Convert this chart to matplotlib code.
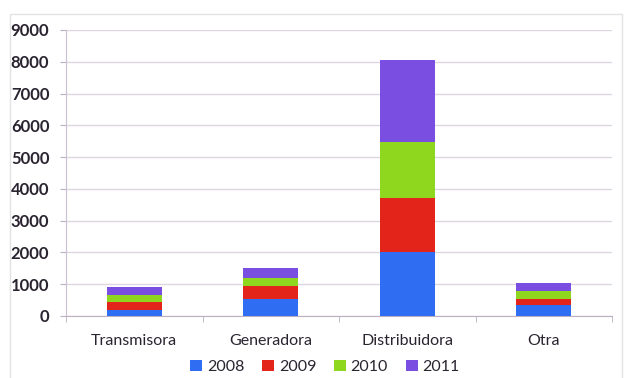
import matplotlib
matplotlib.use("Agg")
import matplotlib.pyplot as plt
from matplotlib.patches import Rectangle
import numpy as np

categories = ["Transmisora", "Generadora", "Distribuidora", "Otra"]
years = ["2008", "2009", "2010", "2011"]
v2008 = [200, 550, 2000, 350]
v2009 = [250, 380, 1700, 200]
v2010 = [200, 280, 1780, 250]
v2011 = [250, 300, 2570, 250]
yticks = [0, 1000, 2000, 3000, 4000, 5000, 6000, 7000, 8000, 9000]

colors = ["#2f6ef2", "#e2241b", "#8fd61f", "#7a4ee0"]
series = [v2008, v2009, v2010, v2011]

plt.rcParams["font.family"] = ["Lato", "DejaVu Sans"]

fig = plt.figure(figsize=(6.27, 3.78), dpi=100)
fig.patch.set_facecolor("white")

# faint outer frame of the chart area
fig.patches.append(Rectangle((10 / 627, -0.05), 612 / 627, 1.05 - 14 / 378,
                             transform=fig.transFigure, fill=False,
                             edgecolor="#e2e2e2", linewidth=1.0))

ax = fig.add_axes([66 / 627, (378 - 316) / 378, (612 - 66) / 627, (316 - 30) / 378])
x = np.arange(len(categories))
bottom = np.zeros(len(categories))
for yr, vals, c in zip(years, series, colors):
    ax.bar(x, vals, width=0.4, bottom=bottom, color=c, label=yr, zorder=3)
    bottom += np.array(vals)

ax.set_xlim(-0.5, 3.5)
ax.set_ylim(0, 9000)
ax.set_yticks(yticks)
ax.set_yticklabels([str(t) for t in yticks], fontsize=12, fontweight="bold",
                   color="#2a2430")
ax.set_xticks(x)
ax.set_xticklabels(categories, fontsize=11.5, color="#2a2430")
ax.set_xticks(np.arange(-0.5, 4.0, 1.0), minor=True)
ax.tick_params(axis="x", which="major", length=0, pad=13)
ax.tick_params(axis="x", which="minor", length=4, color="#bcb0c2")
ax.tick_params(axis="y", length=4, color="#bcb0c2", pad=8)

ax.grid(axis="y", color="#ddd6e0", linewidth=1.0, zorder=0)
for s in ["top", "right"]:
    ax.spines[s].set_visible(False)
ax.spines["left"].set_color("#cbbfd2")
ax.spines["bottom"].set_color("#bcb0c2")

handles, labels = ax.get_legend_handles_labels()
fig.legend(handles, labels, loc="center", ncol=4,
           bbox_to_anchor=(325 / 627, 1 - 367 / 378), frameon=False,
           fontsize=11.5, handlelength=0.75, handleheight=0.75,
           handletextpad=0.3, columnspacing=1.1,
           labelcolor="#2a2430")

fig.savefig("out.png", dpi=100, facecolor="white")
